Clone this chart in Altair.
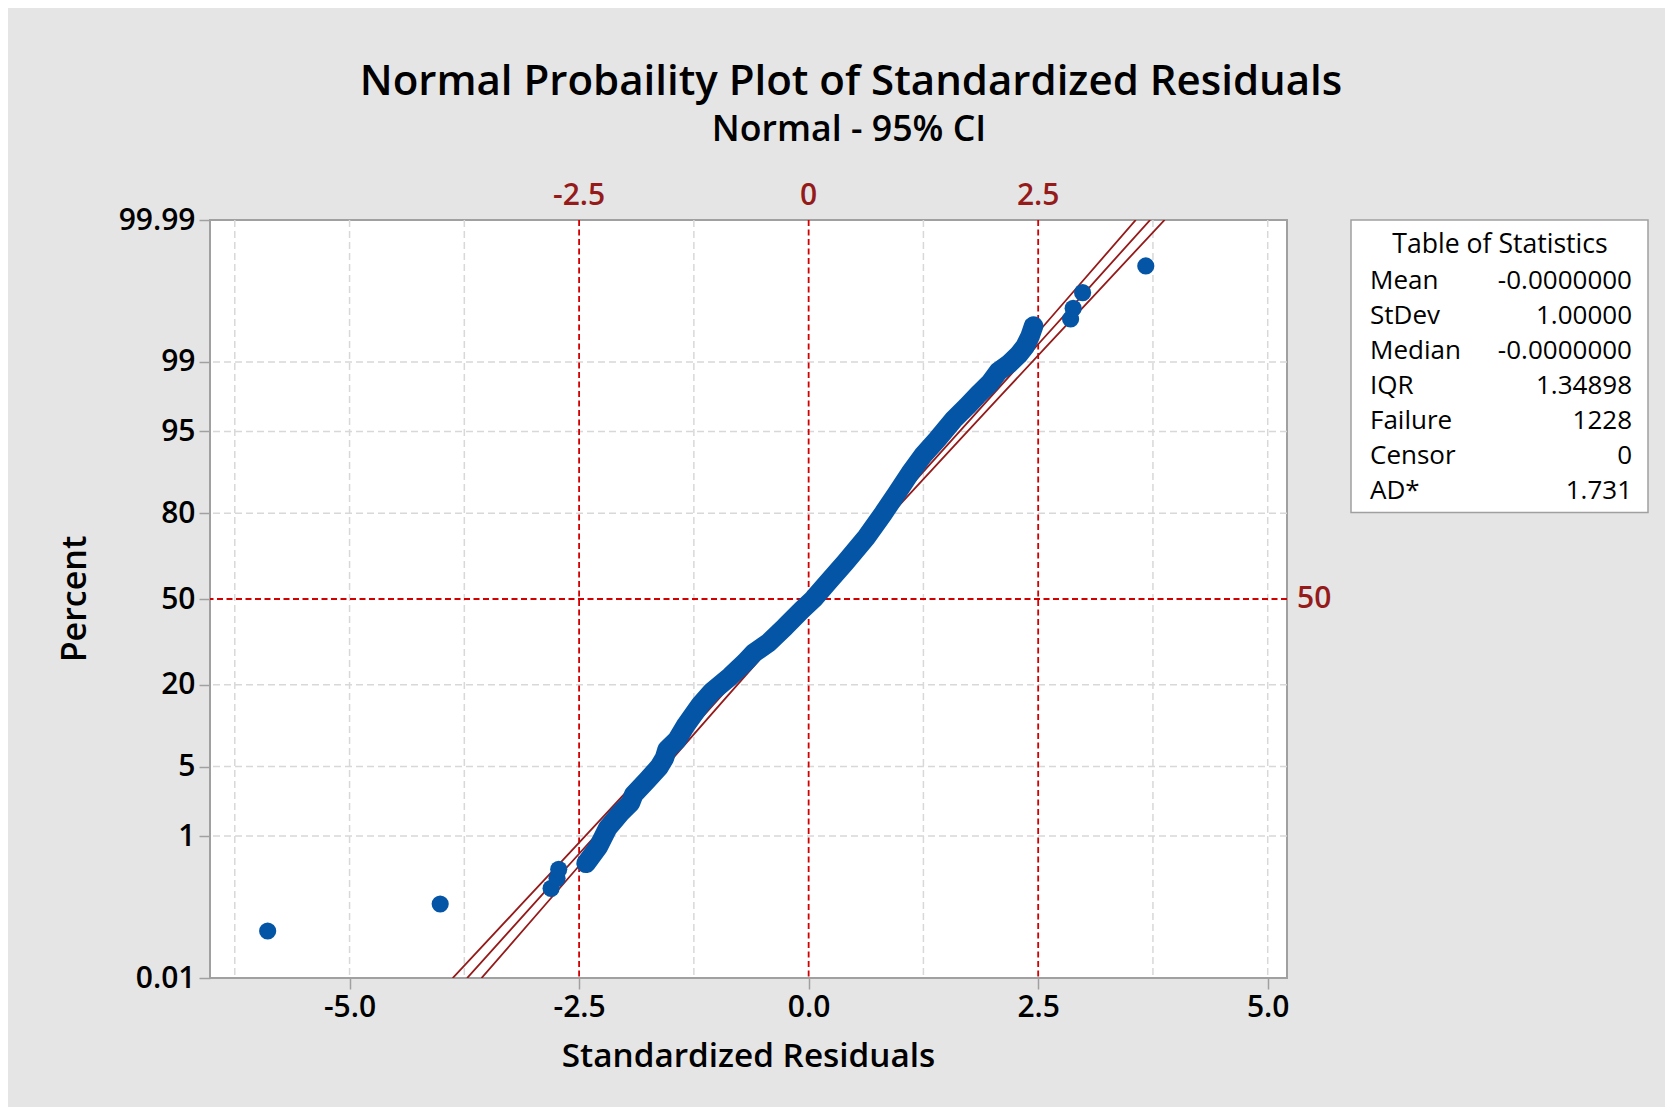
import altair as alt
import pandas as pd
from statistics import NormalDist

nd = NormalDist()

# ---------------- data ----------------
# dense part of the residual curve: (standardized residual, normal score)
curve_x = [-2.424, -2.29, -2.19, -2.05, -1.94, -1.906, -1.765, -1.63, -1.57, -1.543,
           -1.434, -1.335, -1.181, -1.054, -0.854, -0.69, -0.601, -0.437, -0.255, -0.075,
           0.052, 0.216, 0.40, 0.633, 0.814, 0.96, 1.104, 1.249, 1.395, 1.576,
           1.721, 1.84, 1.975, 2.065, 2.19, 2.283, 2.356, 2.41, 2.45]
curve_z = [-2.594, -2.431, -2.25, -2.10, -2.0, -1.92, -1.785, -1.65, -1.56, -1.48,
           -1.384, -1.235, -1.04, -0.91, -0.76, -0.62, -0.533, -0.43, -0.272, -0.108,
           0.0, 0.17, 0.36, 0.611, 0.841, 1.037, 1.234, 1.413, 1.56, 1.757,
           1.887, 2.00, 2.12, 2.231, 2.313, 2.394, 2.476, 2.574, 2.679]
# isolated points in the tails
pts_x = [-5.892, -4.013, -2.805, -2.740, -2.722, 2.853, 2.881, 2.984, 3.672]
pts_z = [-3.258, -2.993, -2.839, -2.741, -2.653, 2.748, 2.853, 3.006, 3.268]

# fitted normal line and 95% CI half-widths (in residual units) at normal scores
fit_mean = 0.0
fit_sd = 1.0
band_z = [-3.72, -3.0, -2.5, -2.0, -1.5, -1.0, -0.5, 0.0, 0.5, 1.0, 1.5, 2.0, 2.5, 3.0, 3.72]
band_half = [0.157, 0.131, 0.114, 0.097, 0.082, 0.069, 0.059, 0.056, 0.059, 0.069,
             0.082, 0.097, 0.114, 0.131, 0.157]

pct_ticks = [0.01, 1, 5, 20, 50, 80, 95, 99, 99.99]
pct_labels = ["0.01", "1", "5", "20", "50", "80", "95", "99", "99.99"]
x_ticks = [-5.0, -2.5, 0.0, 2.5, 5.0]
grid_x = [-6.25, -5.0, -3.75, -1.25, 1.25, 3.75, 5.0]
grid_pct = [1, 5, 20, 80, 95, 99]
ref_x = [-2.5, 0.0, 2.5]
ref_x_labels = ["-2.5", "0", "2.5"]
ref_pct = [50]

stat_names = ["Mean", "StDev", "Median", "IQR", "Failure", "Censor", "AD*"]
stat_values = ["-0.0000000", "1.00000", "-0.0000000", "1.34898", "1228", "0", "1.731"]

title_text = "Normal Probaility Plot of Standardized Residuals"
subtitle_text = "Normal - 95% CI"
x_title = "Standardized Residuals"
y_title = "Percent"
table_title = "Table of Statistics"

# ---------------- layout / style ----------------
W, H = 1077, 758
FONT = "Open Sans"
BLUE = "#0455a6"
DARKRED = "#951a1a"
REFRED = "#d40000"
GRID = "#d8d8d8"
AXISGRAY = "#a0a0a0"

zmax = -nd.inv_cdf(0.0001)
tick_z = [nd.inv_cdf(p / 100.0) for p in pct_ticks]

label_expr = ""
for zv, lab in zip(tick_z, pct_labels):
    label_expr += f"abs(datum.value - ({zv:.5f})) < 0.01 ? '{lab}' : "
label_expr += "''"

x_label_expr = "datum.value < 0 ? '-' + format(-datum.value, '.1f') : format(datum.value, '.1f')"

xscale = alt.Scale(domain=[-6.52, 5.21], nice=False, zero=False)
yscale = alt.Scale(domain=[-zmax, zmax], nice=False, zero=False)

x_axis = alt.Axis(values=x_ticks, labelExpr=x_label_expr, labelFont=FONT, labelFontSize=30,
                  labelFontWeight=600, labelColor="black", tickColor=AXISGRAY,
                  tickSize=11, tickWidth=1.5, domain=False, grid=False, labelPadding=3,
                  labelFlush=False)
y_axis = alt.Axis(values=tick_z, labelExpr=label_expr, labelFont=FONT, labelFontSize=30,
                  labelFontWeight=600, labelColor="black", tickColor=AXISGRAY,
                  tickSize=11, tickWidth=1.5, domain=False, grid=False, labelPadding=4,
                  labelFlush=False)


def X(field):
    return alt.X(field, type="quantitative", scale=xscale, axis=x_axis, title=None)


def Y(field):
    return alt.Y(field, type="quantitative", scale=yscale, axis=y_axis, title=None)


layers = []

# grid lines
gx = pd.DataFrame({"gx": grid_x})
layers.append(alt.Chart(gx).mark_rule(color=GRID, strokeWidth=1.5, strokeDash=[7, 4])
              .encode(x=X("gx")))
gy = pd.DataFrame({"gz": [nd.inv_cdf(p / 100.0) for p in grid_pct]})
layers.append(alt.Chart(gy).mark_rule(color=GRID, strokeWidth=1.5, strokeDash=[7, 4])
              .encode(y=Y("gz")))

# red reference lines
rx = pd.DataFrame({"rx": ref_x, "lab": ref_x_labels})
layers.append(alt.Chart(rx).mark_rule(color=REFRED, strokeWidth=1.8, strokeDash=[6, 3.5])
              .encode(x=X("rx")))
ry = pd.DataFrame({"rz": [nd.inv_cdf(p / 100.0) for p in ref_pct],
                   "lab": [str(p) for p in ref_pct]})
layers.append(alt.Chart(ry).mark_rule(color=REFRED, strokeWidth=1.8, strokeDash=[6, 3.5])
              .encode(y=Y("rz")))

# fitted line and CI band
rows = []
for zv, h in zip(band_z, band_half):
    xc = fit_mean + fit_sd * zv
    rows.append({"z": zv, "x": xc - h, "which": "lo"})
    rows.append({"z": zv, "x": xc, "which": "fit"})
    rows.append({"z": zv, "x": xc + h, "which": "hi"})
band = pd.DataFrame(rows)
layers.append(alt.Chart(band).mark_line(color=DARKRED, strokeWidth=1.8, clip=True)
              .encode(x=X("x"), y=Y("z"), detail="which:N", order="z:Q"))

# residual points (dense run drawn as a thick chain of dots)
cv = pd.DataFrame({"x": curve_x, "z": curve_z})
layers.append(alt.Chart(cv).mark_line(color=BLUE, strokeWidth=19.5, strokeCap="round",
                                      strokeJoin="round")
              .encode(x=X("x"), y=Y("z"), order="z:Q"))
pt = pd.DataFrame({"x": pts_x, "z": pts_z})
layers.append(alt.Chart(pt).mark_circle(color=BLUE, opacity=1, size=295)
              .encode(x=X("x"), y=Y("z")))

# reference line labels
layers.append(alt.Chart(rx).mark_text(font=FONT, fontSize=30, fontWeight=600, color=DARKRED,
                                      baseline="alphabetic", align="center")
              .encode(x=X("rx"), y=alt.value(-15), text="lab:N"))
layers.append(alt.Chart(ry).mark_text(font=FONT, fontSize=30, fontWeight=600, color=DARKRED,
                                      baseline="middle", align="left")
              .encode(x=alt.value(W + 10), y=Y("rz"), text="lab:N"))


def label(txt, x, y, size, align="center", baseline="alphabetic", angle=0, weight=600):
    d = pd.DataFrame({"t": [txt]})
    m = alt.Chart(d).mark_text(font=FONT, fontSize=size, fontWeight=weight, color="black",
                               align=align, baseline=baseline, angle=angle)
    return m.encode(text="t:N", x=alt.value(x), y=alt.value(y))


layers.append(label(title_text, 641, -125, 42))
layers.append(label(subtitle_text, 639, -79, 35.7))
layers.append(label(x_title, W / 2, 847, 33.3))
layers.append(label(y_title, -134, H / 2, 34, baseline="middle", angle=270))

# table of statistics
box = pd.DataFrame({"k": [0]})
layers.append(alt.Chart(box).mark_rect(fill="white", stroke=AXISGRAY, strokeWidth=1.5)
              .encode(x=alt.value(1141), x2=alt.value(1438), y=alt.value(0), y2=alt.value(292.5)))
layers.append(label(table_title, 1290, 33, 26.6, weight=500))
for i, (nm, val) in enumerate(zip(stat_names, stat_values)):
    yy = 68.5 + 35.0 * i
    layers.append(label(nm, 1160, yy, 26, align="left", weight=500))
    layers.append(label(val, 1422, yy, 26, align="right", weight=500))

chart = alt.layer(*layers).properties(
    width=W, height=H,
    background="#e5e5e5",
    padding={"left": 202, "top": 212, "right": 378, "bottom": 129},
    autosize=alt.AutoSizeParams(type="none"),
).configure_view(stroke=AXISGRAY, strokeWidth=2, fill="white")

chart.save("out.html", embed_options={"renderer": "svg", "actions": False})
